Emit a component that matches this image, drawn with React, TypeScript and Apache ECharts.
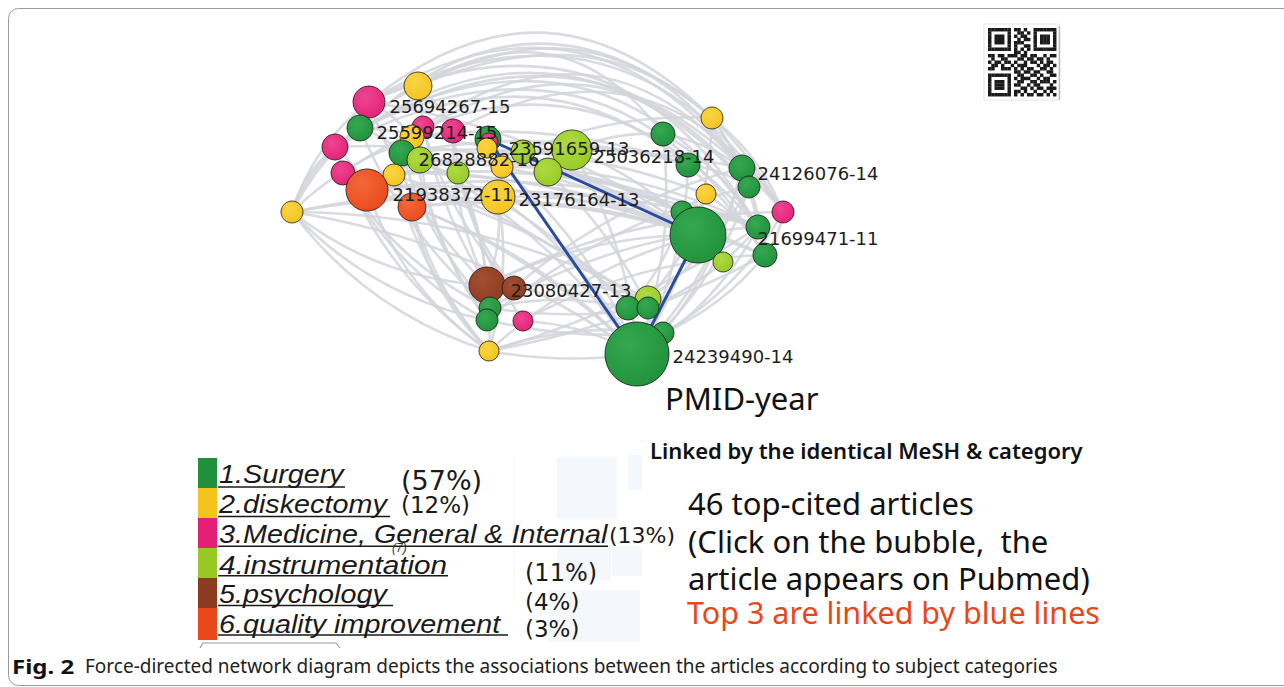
import React, { useEffect, useRef } from "react";
import * as echarts from "echarts";

// ---- data ----
const categories = [
  "1.Surgery",
  "2.diskectomy",
  "3.Medicine, General & Internal",
  "4.instrumentation",
  "5.psychology",
  "6.quality improvement",
];
const percents = ["(57%)", "(12%)", "(13%)", "(11%)", "(4%)", "(3%)"];

// node positions on the layout plane (x, y), bubble radius, category index
const nodeX = [418, 369, 360, 423, 453, 412, 335, 402, 420, 488, 489, 458, 502, 343, 394, 367, 412, 498, 292, 523, 572, 548, 663, 712, 688, 742, 749, 706, 682, 698, 783, 758, 765, 723, 487, 514, 490, 487, 523, 489, 648, 628, 648, 663, 637, 487];
const nodeY = [86, 102, 128, 127, 131, 137, 147, 153, 160, 139, 142, 173, 167, 173, 175, 190, 207, 197, 212, 152, 150, 172, 134, 118, 165, 168, 187, 194, 212, 235, 212, 227, 255, 262, 285, 288, 308, 320, 321, 351, 299, 308, 308, 333, 354, 148];
const nodeR = [14, 16, 13, 11, 12, 12, 13, 13, 13, 13, 9, 11, 11, 12, 11, 21, 14, 17, 11, 12, 20, 14, 12, 11, 12, 13, 11, 10, 11, 28, 11, 12, 12, 10, 18, 12, 11, 11, 10, 10, 13, 12, 11, 11, 32, 10];
const nodeCat = [1, 2, 0, 2, 2, 1, 2, 0, 3, 0, 2, 3, 1, 2, 1, 5, 5, 1, 1, 3, 3, 3, 0, 1, 0, 0, 0, 1, 0, 0, 2, 0, 0, 3, 4, 4, 0, 0, 2, 1, 3, 0, 0, 0, 0, 1];

// labelled nodes: index -> "PMID-year"
const labelNode = [1, 2, 7, 9, 20, 25, 15, 17, 29, 34, 44];
const labelText = [
  "25694267-15",
  "25599214-15",
  "26828882-16",
  "23591659-13",
  "25036218-14",
  "24126076-14",
  "21938372-11",
  "23176164-13",
  "21699471-11",
  "23080427-13",
  "24239490-14",
];

// links (source, target)
const outerTopLinks = [
  [1, 30], [0, 25], [2, 31], [6, 26], [1, 25], [0, 30], [2, 32], [6, 30], [13, 31],
  [1, 23], [0, 22], [3, 25], [4, 30], [5, 26], [2, 23], [6, 32], [1, 31],
];
const outerRightLinks = [
  [23, 32], [23, 30], [25, 44], [30, 43], [26, 44], [31, 44], [22, 31], [30, 32], [23, 44],
];
const outerBottomLinks = [[44, 39], [43, 37], [32, 39], [42, 36], [31, 39]];
const outerLeftLinks = [
  [39, 18], [37, 18], [18, 6], [18, 1], [18, 2], [18, 0], [39, 15], [36, 13], [34, 18],
  [39, 6], [37, 13], [39, 16], [18, 4],
];
const crossLinks = [
  [15, 29], [16, 29], [14, 25], [7, 24], [8, 28], [13, 29], [6, 28], [5, 24], [15, 31],
  [16, 32], [14, 31], [8, 29], [7, 27], [13, 32], [2, 29], [1, 29],
  [15, 44], [16, 44], [14, 43], [13, 42], [8, 44], [7, 41], [18, 44], [18, 29], [18, 40], [18, 31],
  [34, 1], [34, 0], [36, 2], [37, 5], [35, 3], [34, 4], [36, 7], [37, 8], [39, 14], [39, 16],
  [38, 4], [35, 11],
  [34, 29], [35, 25], [36, 31], [38, 32], [39, 29], [34, 30], [37, 26], [39, 43], [38, 44],
  [35, 40], [36, 41],
  [17, 29], [17, 44], [20, 29], [21, 28], [19, 24], [12, 44], [11, 39], [17, 39], [20, 44],
  [19, 42], [12, 31], [21, 33], [11, 37], [17, 34], [20, 22], [19, 23],
  [25, 43], [26, 40], [31, 42], [32, 43], [28, 41], [27, 40], [24, 44], [22, 44],
  [22, 25], [24, 26], [23, 31], [28, 31], [27, 32],
  [1, 5], [0, 4], [2, 7], [6, 15], [13, 16], [14, 8],
];
// top-3 articles linked by blue lines
const topLinks = [[9, 44], [9, 29], [29, 44]];

// QR code modules
const qrRows = [
  "111111101101001111111",
  "100000100110101000001",
  "101110101011001011101",
  "101110100101101011101",
  "101110101110001011101",
  "100000101001101000001",
  "111111101010101111111",
  "000000001101000000000",
  "110110111011011001011",
  "010011000110110110100",
  "101101101001011010110",
  "011010010111000101101",
  "110011101010110011010",
  "000000001101101100110",
  "111111100110011010011",
  "100000101011100101100",
  "101110100110011011101",
  "101110101100101100010",
  "101110100011010110111",
  "100000101101001001010",
  "111111101010110110101",
];

// ---- styles ----
const catColors = ["#20903b", "#f4c31d", "#e31f75", "#97c823", "#8c3a20", "#e9481a"];
const catLight = ["#35a850", "#f9d544", "#ee4690", "#aedb45", "#a24e33", "#f2683a"];
const labelOffset: Record<number, [number, number]> = {
  1: [4, 4], 2: [3, 4], 7: [3, 6], 9: [7, 9], 20: [1, 6], 25: [2, 5],
  15: [4, 4], 17: [3, 2], 29: [31, 3], 34: [5, 5], 44: [3, 2],
};
const legendUnderlineEnd = [345, 390, 608, 448, 393, 508];
const legendScale = [1.15, 1.15, 1.15, 1.19, 1.15, 1.15];
const pctLayout = [
  { x: 401, y: 480, size: 27 },
  { x: 401, y: 505, size: 23 },
  { x: 609, y: 535, size: 22 },
  { x: 525, y: 573, size: 24 },
  { x: 525, y: 602, size: 23 },
  { x: 525, y: 629, size: 23 },
];

function buildOption() {
  const labelIdx: Record<number, string> = {};
  labelNode.forEach((n, i) => (labelIdx[n] = labelText[i]));

  const data = nodeX.map((x, i) => {
    const item: any = {
      name: "n" + i,
      value: [x, nodeY[i]],
      symbolSize: nodeR[i] * 2,
      category: nodeCat[i],
    };
    if (labelIdx[i]) {
      item.label = {
        show: true,
        formatter: labelIdx[i],
        position: "right",
        distance: 0,
        offset: labelOffset[i],
        fontFamily: "DejaVu Sans",
        fontSize: 18,
        color: "#1e1e1e",
      };
    }
    return item;
  });

  const grey = { color: "#d2d5da", width: 2.6, opacity: 0.85 };
  const mk = (arr: number[][], curveness: number, style: any) =>
    arr.map(([s, t]) => ({ source: s, target: t, lineStyle: { ...style, curveness } }));

  const links = [
    ...mk(crossLinks, 0.12, grey),
    ...mk(outerLeftLinks, 0.16, grey),
    ...mk(outerBottomLinks, 0.08, grey),
    ...mk(outerRightLinks, 0.14, grey),
    ...mk(outerTopLinks, 0.45, grey),
    ...mk(topLinks, 0, { color: "#2a4b9e", width: 3, opacity: 1 }),
  ];

  const graphCats = categories.map((c, i) => ({
    name: c,
    itemStyle: {
      color: {
        type: "radial",
        x: 0.38,
        y: 0.35,
        r: 0.75,
        colorStops: [
          { offset: 0, color: catLight[i] },
          { offset: 1, color: catColors[i] },
        ],
      },
      borderColor: "rgba(25,25,25,0.8)",
      borderWidth: 1,
    },
  }));

  // graphic elements
  const g: any[] = [];
  // outer frame
  g.push({
    type: "rect",
    shape: { x: 8.5, y: 8.5, width: 1300, height: 677, r: 10 },
    style: { fill: "none", stroke: "#9a9a9a", lineWidth: 1 },
    z: 0,
  });
  // faint background shapes behind legend
  const pale = "#f4f7fb";
  [
    { x: 557, y: 457, w: 60, h: 62 },
    { x: 628, y: 455, w: 14, h: 35 },
    { x: 557, y: 545, w: 54, h: 35 },
    { x: 612, y: 546, w: 30, h: 30 },
    { x: 548, y: 590, w: 92, h: 52 },
  ].forEach((b) =>
    g.push({
      type: "rect",
      shape: { x: b.x, y: b.y, width: b.w, height: b.h, r: 2 },
      style: { fill: pale },
      z: 0,
    })
  );
  g.push({
    type: "line",
    shape: { x1: 514, y1: 456, x2: 514, y2: 600 },
    style: { stroke: "#f4f4f4", lineWidth: 1 },
    z: 0,
  });
  // QR code
  g.push({
    type: "rect",
    shape: { x: 984, y: 24, width: 75, height: 76 },
    style: { fill: "#fff", stroke: "#e4e4e4", lineWidth: 1 },
    z: 1,
  });
  g.push({
    type: "line",
    shape: { x1: 1059.5, y1: 26, x2: 1059.5, y2: 100 },
    style: { stroke: "#bdbdbd", lineWidth: 1.5 },
    z: 1,
  });
  const qm = 3.25;
  qrRows.forEach((row, r) => {
    for (let c = 0; c < row.length; c++) {
      if (row[c] === "1") {
        g.push({
          type: "rect",
          shape: { x: 988 + c * qm, y: 28 + r * qm, width: qm + 0.2, height: qm + 0.2 },
          style: { fill: "#1a1a1a" },
          z: 2,
        });
      }
    }
  });

  // texts right
  const sansFont = "Noto Sans";
  g.push({
    type: "text",
    x: 665,
    y: 398,
    style: { text: "PMID-year", fontFamily: sansFont, fontSize: 31, fill: "#111", verticalAlign: "middle" },
    z: 5,
  });
  g.push({
    type: "text",
    x: 650,
    y: 450,
    style: {
      text: "Linked by the identical MeSH & category",
      fontFamily: sansFont,
      fontWeight: 600,
      fontSize: 22,
      fill: "#111",
      verticalAlign: "middle",
    },
    z: 5,
  });
  const infoLines = ["46 top-cited articles", "(Click on the bubble,  the", "article appears on Pubmed)"];
  const infoY = [503, 541, 578];
  infoLines.forEach((t, i) =>
    g.push({
      type: "text",
      x: 688,
      y: infoY[i],
      style: { text: t, fontFamily: sansFont, fontSize: 31, fill: "#111", verticalAlign: "middle" },
      z: 5,
    })
  );
  g.push({
    type: "text",
    x: 687,
    y: 612,
    style: {
      text: "Top 3 are linked by blue lines",
      fontFamily: sansFont,
      fontSize: 30.5,
      fill: "#e8471a",
      verticalAlign: "middle",
    },
    z: 5,
  });

  // legend
  categories.forEach((c, i) => {
    const top = 458 + i * 30;
    g.push({
      type: "rect",
      shape: { x: 198, y: top, width: 19, height: i === 5 ? 32 : 30 },
      style: { fill: catColors[i] },
      z: 5,
    });
    g.push({
      type: "text",
      x: 219,
      y: 475 + i * 30,
      scaleX: legendScale[i],
      style: {
        text: c,
        fontFamily: "Liberation Sans",
        fontStyle: "italic",
        fontSize: 25,
        fill: "#1a1a1a",
        verticalAlign: "middle",
      },
      z: 6,
    });
    g.push({
      type: "line",
      shape: { x1: 218, y1: 487 + i * 29.6, x2: legendUnderlineEnd[i], y2: 487 + i * 29.6 },
      style: { stroke: "#1a1a1a", lineWidth: 1.5 },
      z: 6,
    });
    const p = pctLayout[i];
    g.push({
      type: "text",
      x: p.x,
      y: p.y,
      style: {
        text: percents[i],
        fontFamily: "DejaVu Sans",
        fontSize: p.size,
        fill: "#1a1a1a",
        verticalAlign: "middle",
      },
      z: 6,
    });
  });
  g.push({
    type: "text",
    x: 392,
    y: 548,
    style: {
      text: "(7)",
      fontFamily: "Liberation Sans",
      fontStyle: "italic",
      fontSize: 12,
      fill: "#333",
      verticalAlign: "middle",
    },
    z: 7,
  });
  g.push({
    type: "polyline",
    shape: { points: [[200, 648], [203, 643], [336, 643], [340, 648]] },
    style: { stroke: "#9a9a9a", lineWidth: 1.2, fill: "none" },
    z: 5,
  });

  // caption
  g.push({
    type: "text",
    x: 12,
    y: 666,
    scaleX: 1.2,
    style: {
      text: "Fig. 2",
      fontFamily: sansFont,
      fontWeight: "bold",
      fontSize: 20,
      fill: "#111",
      verticalAlign: "middle",
    },
    z: 5,
  });
  g.push({
    type: "text",
    x: 85,
    y: 666,
    style: {
      text: "Force-directed network diagram depicts the associations between the articles according to subject categories",
      fontFamily: sansFont,
      fontSize: 19,
      fill: "#222",
      verticalAlign: "middle",
    },
    z: 5,
  });

  return {
    animation: false,
    backgroundColor: "#ffffff",
    grid: { left: 0, right: 0, top: 0, bottom: 0, containLabel: false },
    xAxis: { type: "value", min: 0, max: 1284, show: false },
    yAxis: { type: "value", min: 0, max: 687, inverse: true, show: false },
    series: [
      {
        type: "graph",
        coordinateSystem: "cartesian2d",
        layout: "none",
        categories: graphCats,
        data,
        links,
        symbol: "circle",
        emphasis: { disabled: true },
        z: 3,
      },
    ],
    graphic: g,
  };
}

export default function App() {
  const ref = useRef<HTMLDivElement>(null);
  useEffect(() => {
    if (!ref.current) return;
    const chart = echarts.init(ref.current, undefined, { renderer: "svg" });
    chart.setOption(buildOption() as any);
    return () => chart.dispose();
  }, []);
  return (
    <div
      ref={ref}
      style={{ position: "fixed", left: 0, top: 0, width: 1284, height: 687, background: "#fff" }}
    />
  );
}
